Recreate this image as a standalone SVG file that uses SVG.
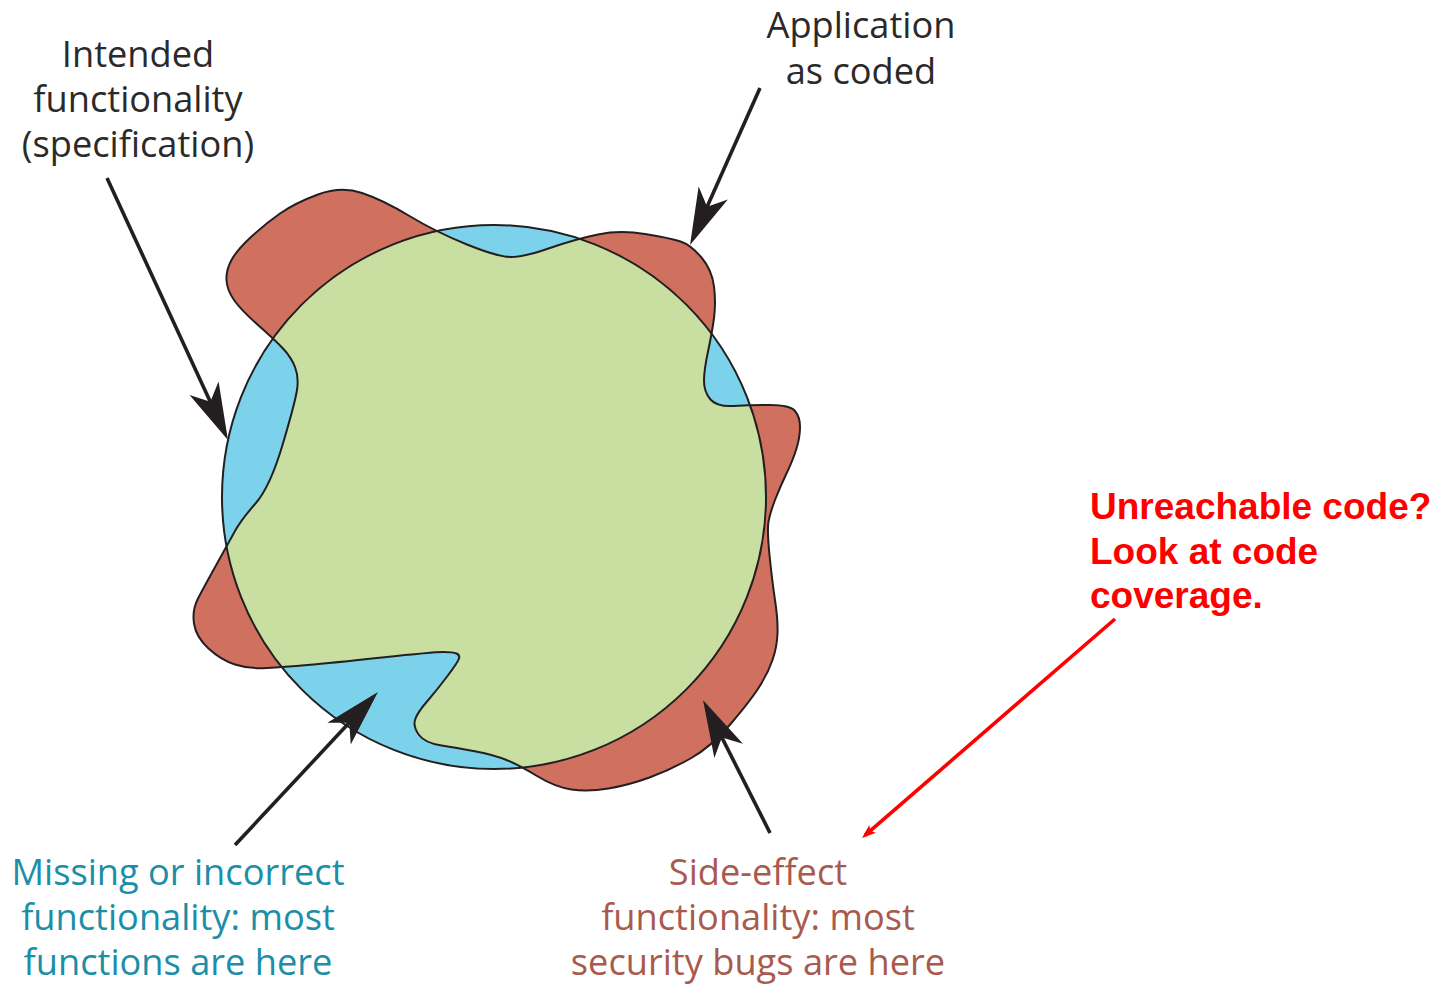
<svg xmlns="http://www.w3.org/2000/svg" xmlns:xlink="http://www.w3.org/1999/xlink" width="1447" height="984" viewBox="0 0 1447 984">
<style>
.lbl{font-family:"Open Sans","Noto Sans","Liberation Sans",sans-serif;font-size:36.2px;text-anchor:middle}
.dark{fill:#2a2a2a}
.teal{fill:#1b8ea8}
.brown{fill:#a95a4e}
.note{font-family:"Liberation Sans",Arial,sans-serif;font-weight:bold;font-size:37px;fill:#ff0000}
.outline{fill:none;stroke:#231f20;stroke-width:2;stroke-linejoin:round}
.arrow{fill:none;stroke:#231f20;stroke-width:3.6}
.red{fill:none;stroke:#ff0000;stroke-width:3.6}
</style>
<defs>
<path id="blob" d="M283,348.5 Q275,340 258,325 Q241,310 234,300 Q227,290 226.5,280 Q226,270 231.5,260 Q237,250 251,237 Q265,224 280,213.5 Q295,203 318,194.5 Q341,186 362,193 Q383,200 409.5,216 Q436,232 467,244.5 Q498,257 511,257 Q524,257 550,248 Q576,239 598,234.5 Q620,230 645,234 Q670,238 680.5,241.5 Q691,245 701.5,257.5 Q712,270 714,286.5 Q716,303 714,318 Q712,333 708,351.5 Q704,370 704,381 Q704,392 710.5,399.5 Q717,407 733.5,406 Q750,405 770,405 Q790,405 795,411 Q800,417 800,427 Q800,437 796.5,448.5 Q793,460 786.5,473.5 Q780,487 775,500 Q770,513 768.5,521.5 Q767,530 769.5,555 Q772,580 775,600 Q778,620 777.5,633.5 Q777,647 772.5,660 Q768,673 759.5,686.5 Q751,700 731,723.5 Q711,747 690.5,758.5 Q670,770 649.5,777.5 Q629,785 608.5,788.5 Q588,792 571.5,789.5 Q555,787 537,776 Q519,765 506.5,760 Q494,755 476,751.5 Q458,748 441.5,745.5 Q425,743 419,735 Q413,727 415,720 Q417,713 427,701.5 Q437,690 447.5,676 Q458,662 459,658.5 Q460,655 456.5,653.5 Q453,652 443,652 Q433,652 382,657.5 Q331,663 307.5,665 Q284,667 266.5,668 Q249,669 235,664.5 Q221,660 208.5,648.5 Q196,637 194,623.5 Q192,610 198,598.5 Q204,587 216.5,564.5 Q229,542 235,531 Q241,520 255.5,503.5 Q270,487 282.5,445 Q295,403 297,390 Q299,377 295,367 Q291,357 283,348.5 Z"/>
<clipPath id="circClip"><circle cx="494" cy="497" r="272"/></clipPath>
<marker id="head" viewBox="-50 -17 60 34" markerWidth="60" markerHeight="34" refX="0" refY="0" orient="auto" markerUnits="userSpaceOnUse">
<path d="M8,0 L-49,-16 L-34,0 L-49,16 Z" fill="#231f20"/>
</marker>
<marker id="redhead" viewBox="-14 -7 20 14" markerWidth="20" markerHeight="14" refX="0" refY="0" orient="auto" markerUnits="userSpaceOnUse">
<path d="M4,0 L-10,-5 L-7,0 L-10,5 Z" fill="#ff0000"/>
</marker>
</defs>
<rect width="1447" height="984" fill="#ffffff"/>
<g id="intended-spec">
<circle cx="494" cy="497" r="272" fill="#7dd2eb"/>
</g>
<g id="app-as-coded">
<use xlink:href="#blob" href="#blob" fill="#d07160"/>
</g>
<g id="overlap">
<use xlink:href="#blob" href="#blob" fill="#c8dfa1" clip-path="url(#circClip)"/>
</g>
<g id="outlines">
<circle cx="494" cy="497" r="272" class="outline"/>
<use xlink:href="#blob" href="#blob" class="outline"/>
</g>
<g id="connectors">
<line x1="107" y1="178" x2="224.6" y2="432.7" class="arrow" marker-end="url(#head)"/>
<line x1="760" y1="88" x2="693.3" y2="237.7" class="arrow" marker-end="url(#head)"/>
<line x1="235" y1="845" x2="372.5" y2="697.8" class="arrow" marker-end="url(#head)"/>
<line x1="770" y1="833" x2="706.6" y2="707.1" class="arrow" marker-end="url(#head)"/>
<line x1="1115" y1="619" x2="865" y2="835.4" class="red" marker-end="url(#redhead)"/>
</g>
<g id="label-intended">
<text class="lbl dark" x="138" y="67">Intended</text>
<text class="lbl dark" x="138" y="112">functionality</text>
<text class="lbl dark" x="138" y="157">(specification)</text>
</g>
<g id="label-application">
<text class="lbl dark" x="861" y="38">Application</text>
<text class="lbl dark" x="861" y="84">as coded</text>
</g>
<g id="label-missing">
<text class="lbl teal" x="178" y="885">Missing or incorrect</text>
<text class="lbl teal" x="178" y="930">functionality: most</text>
<text class="lbl teal" x="178" y="975">functions are here</text>
</g>
<g id="label-side-effect">
<text class="lbl brown" x="758" y="885">Side-effect</text>
<text class="lbl brown" x="758" y="930">functionality: most</text>
<text class="lbl brown" x="758" y="975">security bugs are here</text>
</g>
<g id="label-unreachable">
<text class="note" x="1090" y="519">Unreachable code?</text>
<text class="note" x="1090" y="563.5">Look at code</text>
<text class="note" x="1090" y="608">coverage.</text>
</g>
</svg>
